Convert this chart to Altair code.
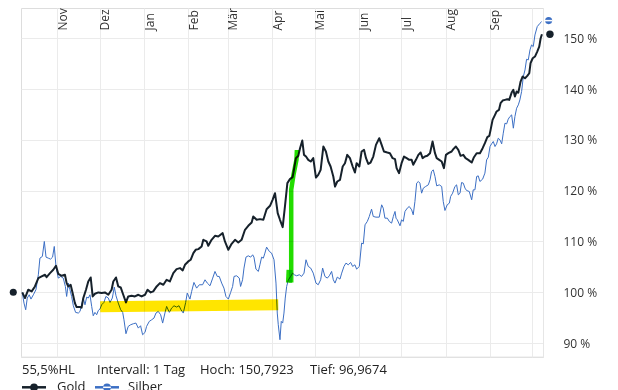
import altair as alt
import pandas as pd

# ---- data (x = days since 2024-10-07, y = performance in %) ----
gold_days = [0.4, 2.3, 4.6, 7.0, 9.3, 11.7, 14.0, 16.4, 17.5, 19.9, 22.2, 24.1, 25.7, 28.1, 30.4, 31.6, 32.8, 34.4, 35.8, 37.4,
             38.6, 41.0, 42.1, 43.3, 45.2, 46.8, 48.5, 49.9, 51.5, 53.9, 56.2, 58.5, 60.9, 63.2, 64.4, 66.3, 67.9, 69.6, 71.4, 73.3,
             74.9, 77.3, 79.6, 82.0, 84.3, 86.7, 88.5, 90.7, 92.5, 94.9, 97.2, 99.6, 101.9, 104.2, 106.6, 108.9, 111.3, 113.2, 114.8, 117.1,
             118.8, 120.7, 122.3, 124.2, 126.5, 127.7, 130.0, 131.2, 133.5, 135.9, 138.2, 141.3, 142.9, 145.3, 147.6, 150.0, 152.3, 154.6, 157.0, 159.3,
             161.7, 162.8, 165.2, 167.5, 169.9, 171.0, 172.2, 174.6, 176.4, 178.1, 180.0, 181.6, 183.5, 185.1, 186.8, 188.6, 190.5, 191.4, 192.8, 194.5,
             195.7, 197.3, 198.5, 199.9, 201.5, 203.2, 205.0, 206.9, 208.5, 210.2, 212.1, 213.9, 215.6, 217.2, 219.1, 220.3, 221.9, 223.8, 225.7, 227.3,
             228.9, 230.8, 232.7, 234.3, 235.5, 237.4, 239.0, 240.7, 242.1, 243.7, 245.3, 247.2, 249.1, 251.4, 253.1, 254.7, 257.1, 258.9, 260.8, 262.5,
             263.6, 265.3, 267.1, 268.8, 270.7, 272.5, 274.2, 275.3, 277.2, 278.9, 280.5, 281.9, 283.5, 285.2, 287.1, 288.9, 290.6, 291.8, 293.6, 295.3,
             296.9, 298.3, 300.0, 302.3, 303.5, 305.3, 307.0, 308.6, 310.5, 312.1, 314.0, 316.4, 318.0, 319.9, 322.2, 324.1, 325.7, 327.4, 328.8, 329.7,
             331.1, 332.8, 333.9, 335.6, 336.7, 338.2, 339.8, 341.4, 342.8, 344.5, 345.7, 346.8, 348.0, 349.2, 350.8, 352.2, 353.9, 355.5, 356.9, 357.8,
             359.3, 360.9, 362.5, 363.9, 364.9, 365.8]
gold_vals = [99.96, 98.85, 100.49, 100.16, 101.14, 102.78, 103.11, 103.44, 102.98, 103.76, 104.42, 105.21, 103.63, 103.24, 103.44, 101.80, 101.14, 101.47, 99.83, 97.86,
             97.08, 97.08, 96.97, 98.85, 100.49, 102.12, 102.91, 99.17, 99.70, 99.96, 99.83, 99.96, 99.50, 100.49, 102.12, 102.91, 101.14, 100.94, 99.50, 97.99,
             99.17, 99.30, 99.17, 99.50, 99.17, 99.50, 100.49, 99.96, 100.16, 101.14, 101.80, 101.47, 102.45, 102.12, 103.76, 104.55, 104.75, 104.29, 105.40, 106.06,
             106.39, 107.70, 108.35, 108.49, 109.01, 110.32, 109.99, 109.14, 110.32, 111.11, 110.98, 111.63, 109.99, 108.35, 109.53, 110.32, 109.80, 110.32, 112.29, 113.08,
             113.73, 114.91, 114.26, 114.39, 114.26, 115.24, 116.35, 117.01, 118.19, 119.50, 115.57, 114.26, 112.81, 116.88, 121.47, 122.26, 122.65, 124.09, 126.39, 126.85,
             128.35, 129.86, 127.04, 126.71, 126.06, 125.73, 126.39, 122.58, 123.11, 124.09, 128.68, 127.70, 125.73, 124.75, 122.78, 120.81, 121.80, 122.12, 124.75, 125.40,
             127.04, 126.39, 124.75, 123.57, 125.40, 124.75, 127.70, 128.03, 126.39, 125.27, 125.53, 126.71, 129.01, 130.32, 129.01, 127.70, 127.50, 127.37, 126.39, 126.19,
             124.42, 123.44, 125.40, 126.71, 126.39, 126.06, 126.06, 125.08, 126.06, 127.04, 127.50, 126.39, 126.71, 126.85, 127.37, 129.67, 127.37, 126.39, 126.06, 125.73,
             124.42, 127.04, 127.37, 127.70, 128.16, 128.68, 128.03, 126.85, 127.04, 126.39, 126.06, 125.53, 126.58, 127.37, 127.37, 128.35, 129.34, 130.52, 130.78, 131.96,
             133.93, 134.91, 135.57, 135.90, 137.21, 137.73, 137.86, 137.99, 137.86, 139.30, 139.83, 138.52, 139.50, 139.30, 141.47, 142.45, 142.12, 142.58, 143.11, 145.08,
             146.06, 146.39, 147.37, 148.35, 149.99, 150.79]

silver_days = [0.4, 1.6, 2.8, 3.9, 5.3, 6.5, 8.2, 10.0, 11.7, 12.8, 14.5, 15.9, 17.1, 18.7, 20.3, 21.7, 22.9, 24.1, 25.7, 27.4,
               29.2, 30.7, 31.6, 32.8, 33.9, 35.1, 36.3, 37.9, 39.8, 41.0, 42.1, 43.3, 44.5, 45.7, 46.8, 48.0, 49.2, 50.3, 51.5, 52.7,
               53.9, 55.0, 56.2, 57.8, 59.2, 60.9, 62.1, 63.7, 65.1, 66.3, 67.9, 69.6, 71.0, 71.9, 73.3, 74.9, 76.6, 78.5, 80.3, 82.0,
               83.6, 85.0, 86.7, 87.8, 89.7, 91.4, 93.0, 94.4, 96.0, 97.7, 99.1, 100.7, 101.9, 103.8, 105.4, 107.1, 108.9, 110.6, 112.0, 113.6,
               115.3, 116.4, 118.3, 119.5, 121.1, 123.0, 124.9, 127.2, 128.9, 130.5, 132.4, 134.3, 135.9, 137.5, 138.9, 140.6, 142.2, 143.6, 145.3, 146.9,
               148.3, 149.3, 151.1, 153.0, 153.9, 155.3, 156.3, 157.7, 159.3, 161.0, 162.4, 163.3, 164.7, 166.4, 167.5, 168.7, 169.9, 171.0, 172.2, 174.1,
               175.7, 177.4, 178.8, 179.7, 180.4, 181.6, 182.5, 183.5, 184.4, 185.3, 186.3, 187.5, 189.1, 190.5, 191.7, 193.3, 195.2, 196.8, 198.5, 199.9,
               201.5, 203.2, 205.0, 206.9, 208.5, 210.2, 211.6, 213.2, 214.9, 216.3, 217.9, 219.1, 220.3, 221.9, 223.8, 225.0, 226.6, 228.0, 229.6, 231.3,
               232.7, 234.3, 235.5, 237.4, 239.0, 240.2, 241.4, 243.0, 244.4, 246.0, 247.2, 249.1, 251.4, 253.1, 254.2, 255.4, 257.1, 258.5, 260.1, 261.3,
               262.5, 263.2, 264.1, 266.0, 267.1, 268.3, 269.5, 271.1, 272.5, 274.2, 275.3, 276.5, 277.7, 278.9, 280.0, 281.2, 282.4, 284.0, 285.9, 287.1,
               288.2, 289.4, 290.6, 291.8, 293.6, 295.3, 296.4, 297.6, 299.2, 300.7, 301.6, 303.0, 304.6, 305.8, 307.0, 308.2, 309.3, 310.5, 311.7, 312.8,
               314.7, 316.4, 317.5, 318.7, 319.9, 321.0, 322.2, 324.1, 325.7, 326.9, 328.1, 329.3, 330.4, 331.6, 332.8, 333.9, 335.1, 336.3, 337.5, 338.6,
               339.8, 341.0, 342.1, 343.3, 344.5, 345.7, 346.8, 348.0, 349.2, 350.3, 351.5, 352.7, 353.9, 355.0, 356.2, 357.4, 358.5, 359.7, 360.9, 362.5,
               364.4, 365.6]
silver_vals = [99.96, 97.86, 96.55, 98.85, 99.50, 98.65, 99.50, 100.49, 103.44, 106.71, 107.04, 109.99, 106.91, 106.71, 106.52, 106.91, 109.01, 105.08, 102.78, 103.11,
               102.78, 101.14, 99.17, 101.80, 100.49, 99.17, 97.34, 96.03, 95.90, 96.22, 97.53, 98.85, 97.53, 99.04, 98.85, 99.50, 97.21, 95.37, 96.03, 95.57,
               96.42, 96.68, 97.53, 97.99, 99.17, 98.85, 97.99, 98.85, 101.01, 99.30, 97.86, 96.55, 96.03, 94.58, 91.83, 93.27, 93.60, 93.80, 93.93, 92.94,
               93.40, 91.63, 92.09, 93.27, 94.26, 94.58, 94.91, 95.90, 96.22, 95.57, 93.93, 95.90, 97.21, 96.03, 96.88, 97.34, 97.08, 97.34, 96.55, 95.90,
               97.99, 99.83, 98.65, 100.16, 101.93, 100.81, 101.47, 101.47, 102.45, 101.80, 101.27, 102.78, 104.09, 103.11, 103.11, 101.80, 100.81, 99.17, 98.65, 99.96,
               101.14, 103.11, 103.24, 102.78, 101.14, 102.45, 104.75, 106.91, 107.17, 106.91, 107.37, 106.91, 104.55, 104.09, 105.40, 106.91, 106.71, 107.70, 108.88, 108.03,
               107.70, 106.39, 101.80, 95.90, 93.60, 90.65, 94.26, 93.93, 95.90, 98.85, 101.14, 102.45, 103.11, 103.76, 103.44, 103.24, 103.44, 103.11, 103.76, 106.39,
               105.08, 104.75, 103.76, 101.80, 101.47, 102.45, 104.75, 103.11, 102.78, 103.24, 104.09, 102.45, 101.80, 102.98, 102.58, 103.76, 105.08, 105.73, 105.40, 105.86,
               105.08, 105.40, 104.55, 105.08, 109.67, 109.53, 113.27, 113.93, 114.91, 116.35, 114.91, 114.78, 114.78, 117.21, 116.55, 114.58, 114.58, 113.93, 113.60, 114.91,
               115.90, 114.58, 114.26, 113.08, 114.26, 113.93, 115.90, 116.55, 116.88, 116.22, 115.24, 117.86, 121.47, 121.80, 121.47, 119.50, 120.49, 120.81, 121.14, 122.12,
               123.76, 124.09, 122.78, 120.94, 121.14, 120.81, 117.86, 116.09, 117.21, 117.53, 118.85, 119.50, 120.81, 121.14, 119.17, 119.50, 121.60, 121.47, 120.49, 120.03,
               119.83, 118.19, 120.16, 120.16, 122.78, 122.91, 121.80, 122.26, 123.44, 126.06, 126.58, 128.68, 129.21, 129.67, 128.68, 129.21, 130.32, 129.99, 129.21, 131.30,
               133.27, 133.14, 134.06, 134.58, 134.91, 132.29, 134.58, 136.22, 136.88, 137.86, 139.50, 142.45, 143.76, 145.86, 145.73, 147.70, 148.68, 148.35, 150.65, 152.29,
               152.94, 153.27]

# highlighter strokes (yellow band, green stroke)
yellow_days = [55.2, 120.0, 180.4]
yellow_vals = [97.15, 97.35, 97.55]
green_days = [189.5, 189.5, 191.1, 193.2, 193.5]
green_vals = [101.9, 120.2, 123.1, 126.1, 128.0]
green_blob_days = [187.9, 188.3]
green_blob_vals = [101.9, 104.4]

# axis ticks
month_days = [25, 55, 86, 117, 145, 176, 206, 237, 267, 298, 329, 359]
month_names = ["Nov", "Dez", "Jan", "Feb", "Mär", "Apr", "Mai", "Jun", "Jul", "Aug", "Sep", ""]
y_ticks = [90, 100, 110, 120, 130, 140, 150]
series_names = ["Gold", "Silber"]
info_texts = ["55,5%HL", "Intervall: 1 Tag", "Hoch: 150,7923", "Tief: 96,9674"]

GOLD = "#16212b"
SILVER = "#3c6fc4"
GRID = "#ebebeb"
FONT = "Open Sans"

X_DOMAIN = [-0.5, 366.55]
Y_DOMAIN = [87.25, 155.95]
OX, OY = 21, 8  # page position of the plot origin

gold_df = pd.DataFrame({"day": gold_days, "val": gold_vals, "series": "Gold"})
silver_df = pd.DataFrame({"day": silver_days, "val": silver_vals, "series": "Silber"})
yellow_df = pd.DataFrame({"day": yellow_days, "val": yellow_vals})
green_df = pd.DataFrame({"day": green_days, "val": green_vals})
gblob_df = pd.DataFrame({"day": green_blob_days, "val": green_blob_vals})

label_expr = "[" + ",".join("'%s'" % m for m in month_names) + "][indexof([" + \
    ",".join(str(d) for d in month_days) + "], datum.value)]"

x_enc = alt.X("day:Q", scale=alt.Scale(domain=X_DOMAIN, nice=False, zero=False),
              axis=alt.Axis(orient="top", values=month_days, labelExpr=label_expr, grid=True,
                            gridColor=GRID, domain=False, ticks=False, tickSize=0,
                            labelAngle=270, labelAlign="left", labelBaseline="middle",
                            labelPadding=-22, labelOffset=5, labelFontSize=12, labelFont=FONT,
                            labelColor="#333333", labelFlush=False, labelOverlap=False, title=None))
y_enc = alt.Y("val:Q", scale=alt.Scale(domain=Y_DOMAIN, nice=False, zero=False),
              axis=alt.Axis(orient="right", values=y_ticks, labelExpr="datum.value + ' %'", grid=True,
                            gridColor=GRID, domain=True, domainColor="#e6e6e6", ticks=False, tickSize=0,
                            labelPadding=20, labelFontSize=12, labelFont=FONT, labelColor="#333333",
                            title=None))
x_plain = alt.X("day:Q")
y_plain = alt.Y("val:Q")

silver_line = alt.Chart(silver_df).mark_line(color=SILVER, strokeWidth=1, strokeJoin="round").encode(x=x_enc, y=y_enc)
gold_line = alt.Chart(gold_df).mark_line(color=GOLD, strokeWidth=2, strokeJoin="round").encode(x=x_plain, y=y_plain)

yellow = alt.Chart(yellow_df).mark_line(color="#ffe500", strokeWidth=11, strokeCap="butt",
                                        blend="multiply").encode(x=x_plain, y=y_plain)
green = alt.Chart(green_df).mark_line(color="#22dd00", strokeWidth=4.5, strokeCap="butt",
                                      blend="multiply").encode(x=x_plain, y=y_plain)
gblob = alt.Chart(gblob_df).mark_line(color="#22dd00", strokeWidth=6, strokeCap="butt",
                                      blend="multiply").encode(x=x_plain, y=y_plain)

bottom_rule = alt.Chart(alt.Data(values=[{}])).mark_rule(color="#e6e6e6", strokeWidth=1).encode(
    y=alt.datum(Y_DOMAIN[0]))

start_dot = alt.Chart(gold_df.head(1)).mark_circle(color=GOLD, size=50, opacity=1, xOffset=-9).encode(
    x=x_plain, y=alt.datum(100))
gold_end = alt.Chart(gold_df.tail(1)).mark_circle(color=GOLD, size=55, opacity=1, xOffset=8).encode(
    x=x_plain, y=y_plain)
silver_end = alt.Chart(silver_df.tail(1)).mark_circle(color=SILVER, size=50, opacity=1, xOffset=7,
                                                      yOffset=-1).encode(x=x_plain, y=y_plain)
silver_end_stripe = alt.Chart(silver_df.tail(1)).mark_point(shape="M-1,0L1,0", stroke="white", strokeWidth=1.5,
                                                            size=60, opacity=1, xOffset=7, yOffset=-1).encode(
    x=x_plain, y=y_plain)

one = alt.Data(values=[{}])
info_x = [22, 97, 200, 310]
infos = [alt.Chart(one).mark_text(text=t, align="left", baseline="alphabetic",
                                  font=FONT, fontSize=13, color="#222222").encode(
    x=alt.value(px - OX), y=alt.value(373.5 - OY))
         for t, px in zip(info_texts, info_x)]

LY = 387.3 - OY
legend_layers = []
for name, color, x0, tx in [("Gold", GOLD, 22, 57), ("Silber", SILVER, 95, 128)]:
    legend_layers.append(alt.Chart(one).mark_rule(color=color, strokeWidth=2.5).encode(
        x=alt.value(x0 - OX), x2=alt.value(x0 - OX + 24), y=alt.value(LY)))
    legend_layers.append(alt.Chart(one).mark_circle(color=color, size=60, opacity=1).encode(
        x=alt.value(x0 - OX + 12), y=alt.value(LY)))
    legend_layers.append(alt.Chart(one).mark_text(text=name, align="left", baseline="alphabetic",
                                                  font=FONT, fontSize=13, color="#222222").encode(
        x=alt.value(tx - OX), y=alt.value(391 - OY)))
legend_layers.append(alt.Chart(one).mark_point(shape="M-1,0L1,0", stroke="white", strokeWidth=1.5, size=60,
                                               opacity=1).encode(x=alt.value(95 - OX + 12), y=alt.value(LY)))

chart = alt.layer(silver_line, gold_line, yellow, green, gblob, bottom_rule, start_dot, gold_end,
                  silver_end, silver_end_stripe, *infos, *legend_layers).properties(
    width=522, height=349,
    padding={"left": 13, "top": 0, "right": 67, "bottom": 40},
    autosize=alt.AutoSizeParams(type="none"),
).configure_view(stroke=None).configure(background="white")

chart.save("out.html", embed_options={"renderer": "svg", "actions": False})
